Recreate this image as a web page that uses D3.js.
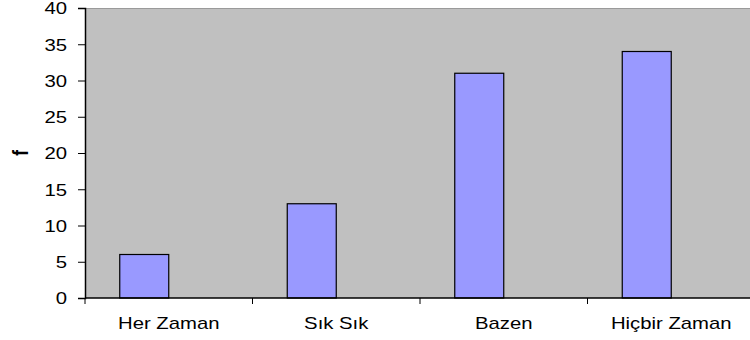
<!DOCTYPE html>
<html>
<head>
<meta charset="utf-8">
<script src="https://cdn.jsdelivr.net/npm/d3@7"></script>
<style>
  html, body { margin: 0; padding: 0; background: #fff; }
  svg { display: block; }
  text { font-family: "Liberation Sans", Arial, sans-serif; fill: #000; }
</style>
</head>
<body>
<svg id="chart" width="750" height="340"></svg>
<script>
// Response categories and frequencies
const categories = ["Her Zaman", "Sık Sık", "Bazen", "Hiçbir Zaman"];
const frequencies = [6, 13, 31, 34];
const yTicks = [0, 5, 10, 15, 20, 25, 30, 35, 40];
const yTitle = "f";

const W = 750, H = 340;
const m = { left: 85, top: 8, right: -5, bottom: 42 };
const plotW = W - m.left - m.right;
const plotH = H - m.top - m.bottom;
const stretch = 1.27; // horizontal text stretch

const svg = d3.select("#chart");
const g = svg.append("g").attr("transform", `translate(${m.left},${m.top})`);

const x = d3.scaleBand().domain(categories).range([0, plotW]);
const y = d3.scaleLinear().domain([0, 40]).range([plotH, 0]);

// plot background
g.append("rect")
  .attr("x", 0).attr("y", 0)
  .attr("width", plotW).attr("height", plotH)
  .attr("fill", "#c0c0c0");
g.append("line")
  .attr("x1", 0).attr("x2", plotW)
  .attr("y1", 0.5).attr("y2", 0.5)
  .attr("stroke", "#9a9a9a").attr("stroke-width", 1);

// bars: first slot of a two-slot cluster in each band
const barW = 49;
g.selectAll("rect.bar")
  .data(frequencies)
  .join("rect")
  .attr("class", "bar")
  .attr("x", (d, i) => x(categories[i]) + x.bandwidth() / 2 - barW)
  .attr("y", d => y(d))
  .attr("width", barW)
  .attr("height", d => plotH - y(d))
  .attr("fill", "#9999ff")
  .attr("stroke", "#000")
  .attr("stroke-width", 1.2);

// y axis
const yAxis = g.append("g").call(
  d3.axisLeft(y).tickValues(yTicks).tickSize(7).tickPadding(0).tickFormat(d3.format("d"))
);
yAxis.select(".domain").attr("stroke", "#000").attr("stroke-width", 1.5);
yAxis.selectAll(".tick line").attr("stroke", "#000");
yAxis.selectAll(".tick text").remove();
yAxis.selectAll(".tick").append("text")
  .attr("text-anchor", "end")
  .attr("dy", "0.36em")
  .attr("font-size", 16)
  .attr("transform", `translate(-18,0) scale(${stretch},1)`)
  .text(d => d);

// x axis
const xEdges = categories.map(c => x(c)).concat([plotW]);
const xAxis = g.append("g").attr("transform", `translate(0,${plotH})`);
xAxis.append("line")
  .attr("x1", 0).attr("x2", plotW)
  .attr("stroke", "#000").attr("stroke-width", 1.5);
xAxis.selectAll("line.tk")
  .data(xEdges)
  .join("line")
  .attr("class", "tk")
  .attr("x1", d => d).attr("x2", d => d)
  .attr("y1", 0).attr("y2", 6)
  .attr("stroke", "#000");
xAxis.selectAll("text.cat")
  .data(categories)
  .join("text")
  .attr("class", "cat")
  .attr("text-anchor", "middle")
  .attr("font-size", 16)
  .attr("transform", d => `translate(${x(d) + x.bandwidth() / 2},31) scale(${stretch},1)`)
  .text(d => d);

// y title
svg.append("text")
  .attr("transform", `translate(28,${m.top + plotH / 2}) scale(${stretch},1) rotate(-90)`)
  .attr("text-anchor", "middle")
  .attr("font-size", 17)
  .attr("font-weight", "bold")
  .text(yTitle);
</script>
</body>
</html>
